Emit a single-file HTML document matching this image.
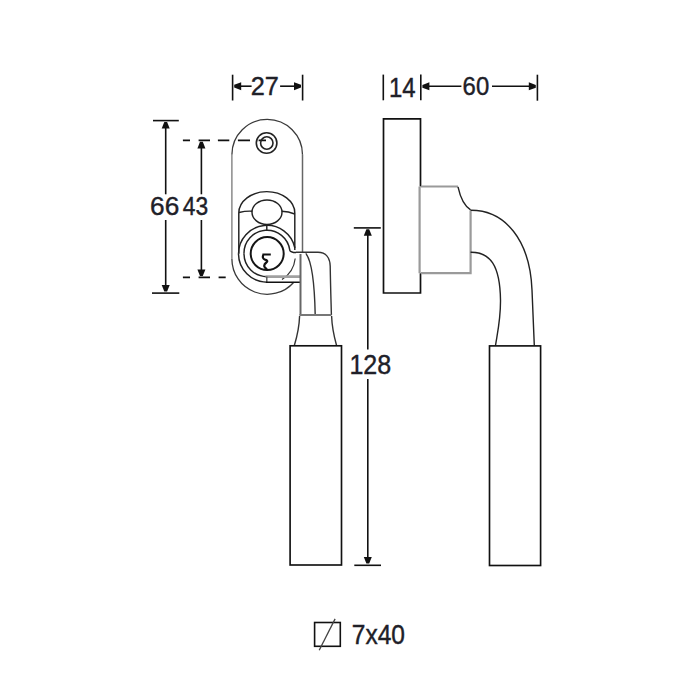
<!DOCTYPE html>
<html>
<head>
<meta charset="utf-8">
<style>
html,body{margin:0;padding:0;background:#fff;width:700px;height:700px;overflow:hidden;}
svg{display:block;}
text{font-family:"Liberation Sans",sans-serif;fill:#202028;stroke:#202028;stroke-width:0.4px;}
</style>
</head>
<body>
<svg width="700" height="700" viewBox="0 0 700 700">
<rect x="0" y="0" width="700" height="700" fill="#fff"/>

<!-- ================= DIMENSIONS ================= -->
<g stroke="#111" stroke-width="1.6" fill="none">
  <!-- 27 -->
  <line x1="232.6" y1="74.7" x2="232.6" y2="100.5"/>
  <line x1="302.6" y1="74.7" x2="302.6" y2="100.5"/>
  <line x1="238" y1="86.2" x2="251.6" y2="86.2"/>
  <line x1="280.1" y1="86.2" x2="297" y2="86.2"/>
  <!-- 14 / 60 -->
  <line x1="383.3" y1="74.6" x2="383.3" y2="100.3"/>
  <line x1="420.8" y1="74.6" x2="420.8" y2="100.3"/>
  <line x1="537.4" y1="74.7" x2="537.4" y2="100.7"/>
  <line x1="426" y1="86.3" x2="461.4" y2="86.3"/>
  <line x1="492" y1="86.3" x2="532" y2="86.3"/>
  <!-- 66 -->
  <line x1="153" y1="120.6" x2="178.8" y2="120.6"/>
  <line x1="152" y1="293.1" x2="179.3" y2="293.1"/>
  <line x1="165.7" y1="127" x2="165.7" y2="194.3"/>
  <line x1="165.7" y1="220" x2="165.7" y2="286"/>
  <!-- 43 -->
  <line x1="201.4" y1="147" x2="201.4" y2="194.3"/>
  <line x1="201.4" y1="220" x2="201.4" y2="270"/>
  <!-- 128 -->
  <line x1="353.8" y1="227.9" x2="380.8" y2="227.9"/>
  <line x1="354.3" y1="565.3" x2="381" y2="565.3"/>
  <line x1="367.8" y1="234" x2="367.8" y2="349.4"/>
  <line x1="367.8" y1="379" x2="367.8" y2="558"/>
</g>
<!-- dashed extension lines for 43 -->
<g stroke="#111" stroke-width="1.6" fill="none">
  <path d="M182.9,140.4H190 M198.6,140.4H210 M217.9,140.4H229.3 M237.9,140.4H250 M258.6,140.4H266"/>
  <path d="M182.9,277.4H190 M198.6,277.4H210 M218.6,277.4H225.7"/>
</g>
<!-- arrowheads -->
<g fill="#111" stroke="none">
<path d="M234.20,84.80 L234.20,87.60 L241.20,90.20 L241.20,82.20 Z"/>
<path d="M301.00,84.80 L301.00,87.60 L294.00,90.20 L294.00,82.20 Z"/>
<path d="M422.40,84.90 L422.40,87.70 L429.40,90.30 L429.40,82.30 Z"/>
<path d="M535.80,84.90 L535.80,87.70 L528.80,90.30 L528.80,82.30 Z"/>
<path d="M164.30,122.00 L167.10,122.00 L169.70,128.60 L161.70,128.60 Z"/>
<path d="M164.30,291.60 L167.10,291.60 L169.70,285.00 L161.70,285.00 Z"/>
<path d="M200.00,141.80 L202.80,141.80 L205.40,148.40 L197.40,148.40 Z"/>
<path d="M200.00,276.00 L202.80,276.00 L205.40,269.40 L197.40,269.40 Z"/>
<path d="M366.40,229.30 L369.20,229.30 L371.80,235.80 L363.80,235.80 Z"/>
<path d="M366.40,563.60 L369.20,563.60 L371.80,557.10 L363.80,557.10 Z"/>
</g>

<!-- texts -->
<!--TEXT-->
<text x="250.80" y="95.34" font-size="26.20" textLength="28.09" lengthAdjust="spacingAndGlyphs">27</text>
<text x="388.92" y="96.50" font-size="26.72" textLength="26.64" lengthAdjust="spacingAndGlyphs">14</text>
<text x="462.62" y="95.34" font-size="26.20" textLength="26.58" lengthAdjust="spacingAndGlyphs">60</text>
<text x="150.08" y="215.34" font-size="26.58" textLength="29.19" lengthAdjust="spacingAndGlyphs">66</text>
<text x="182.78" y="215.34" font-size="26.58" textLength="25.40" lengthAdjust="spacingAndGlyphs">43</text>
<text x="349.42" y="374.34" font-size="26.78" textLength="41.85" lengthAdjust="spacingAndGlyphs">128</text>
<text x="351.80" y="643.72" font-size="26.96" textLength="53.19" lengthAdjust="spacingAndGlyphs">7x40</text>
<!--/TEXT-->

<!-- 7x40 symbol -->
<g stroke="#111" stroke-width="1.6" fill="none">
  <rect x="314.6" y="622.5" width="25.7" height="23.8"/>
  <line x1="335.1" y1="618.9" x2="319.2" y2="650.3" stroke="#444" stroke-width="1.3"/>
</g>

<!-- ================= FRONT VIEW ================= -->
<!-- plate outline -->
<path d="M231.9,154.7 A35.3,35.3 0 0 1 302.5,154.7 M231.9,258.8 A35.3,35.3 0 0 0 293.8,282.2" stroke="#3a3a3a" stroke-width="1.3" fill="none"/>
<path d="M231.9,154.7 L231.9,258.8" stroke="#777" stroke-width="1.3" fill="none"/>
<path d="M302.5,154.7 L302.5,252.3" stroke="#666" stroke-width="1.5" fill="none"/>
<!-- screw hole -->
<circle cx="266.6" cy="143" r="10.3" stroke="#222" stroke-width="1.6" fill="none"/>
<circle cx="266.8" cy="143" r="6.2" stroke="#222" stroke-width="1.6" fill="none"/>

<g stroke="#222" stroke-width="1.45" fill="none">
  <!-- housing top arc and sides -->
  <path d="M238.8,253.7 L238.8,213 A28,21.4 0 0 1 294.8,213 L294.8,250"/>
  <!-- connectors -->
  <path d="M239,212.5 Q246,210.8 252.2,211.2"/>
  <path d="M281.8,211.2 Q288.5,211.5 294.8,214"/>
  <!-- upper ellipse -->
  <ellipse cx="267" cy="212.2" rx="15" ry="12.25"/>
  <!-- stub -->
  <line x1="266.8" y1="224.5" x2="266.8" y2="230.5"/>
  <!-- outer ring (r 28.5) -->
  <path d="M238.5,253.7 A28.5,28.5 0 0 1 294.9,248"/>
  <path d="M238.5,253.7 A28.5,28.5 0 0 0 267,282.2"/>
  <!-- inner ring (r 23) -->
  <path d="M244,253.7 A23,23 0 0 1 289.8,250.2 C290.4,252.1 292.5,252.5 296,252.5"/>
  <path d="M244,253.7 A23,23 0 0 0 267,276.7"/>
  <!-- cylinder -->
  <circle cx="267.2" cy="253.6" r="16.5" stroke-width="2" stroke="#151515"/>
  <!-- keyhole -->
  <path d="M262.4,254.5 L270.8,254.5 M263.4,254.6 C262.3,257 262.8,258.9 265,259.6 C267.5,260.3 267.9,261.3 266.3,262.5 C264.5,263.9 263.8,265.3 264.5,266.8 C265.1,268 266.3,268.9 267.2,269.8" stroke-width="2.2" stroke="#111"/>
</g>
<!-- outer ring lower right (behind band) -->
<path d="M295.2,258.5 A28.5,28.5 0 0 1 282,279.5" stroke="#333" stroke-width="1.2" fill="none"/>
<!-- neck band -->
<path d="M265.5,276.6 L300.7,276.6" stroke="#a0a0a0" stroke-width="2.8" fill="none"/>
<path d="M266.8,276.4 L266.8,282.2" stroke="#555" stroke-width="1.4" fill="none"/>
<path d="M266,282.2 L300,282.2" stroke="#111" stroke-width="1.6" fill="none"/>

<!-- lever (front) -->
<g stroke="#333" stroke-width="1.4" fill="none">
  <path d="M296,252.3 L318,252.3 C326,252.3 330,258 330.2,266 C330.5,285 331,300 331.4,315"/>
  <path d="M300.5,254 L300.5,315" stroke="#666" stroke-width="2"/>
  <path d="M305.8,253.4 Q314.2,264 315.2,315"/>
  <path d="M299.4,315 L331.4,315" stroke="#777" stroke-width="2"/>
  <path d="M299.6,316 C299.3,325 297.8,334 294.4,345.3"/>
  <path d="M331.6,316 C331.9,325 333.4,334 336.5,345.3"/>
</g>
<!-- grip (front) -->
<rect x="290.1" y="345.8" width="51.4" height="219.2" stroke="#111" stroke-width="1.65" fill="none"/>

<!-- ================= SIDE VIEW ================= -->
<path d="M420.5,186.5 L420.5,118.8 L383.5,118.8 L383.5,293 L420.5,293 L420.5,273.3" stroke="#111" stroke-width="1.7" fill="none"/>
<!-- block -->
<path d="M419.6,186.5 L419.6,273.2 M421,186.5 L458,186.5 M421,273.2 L470.6,273.2 L470.6,210.5" stroke="#9a9a9a" stroke-width="2.2" fill="none"/>
<path d="M458,186.8 C460,196 463,205 470.6,209.8" stroke="#222" stroke-width="1.4" fill="none"/>
<!-- lever side -->
<g stroke="#222" stroke-width="1.4" fill="none">
  <path d="M470.6,210.3 C505,210 530,240 532,290 L534.3,345.5"/>
  <path d="M470.6,252.3 C490,252 500,265 500.5,300 C500.7,320 497,335 495.5,345.5"/>
</g>
<rect x="489.5" y="345.9" width="51.1" height="219.6" stroke="#111" stroke-width="1.65" fill="none"/>

</svg>
</body>
</html>
